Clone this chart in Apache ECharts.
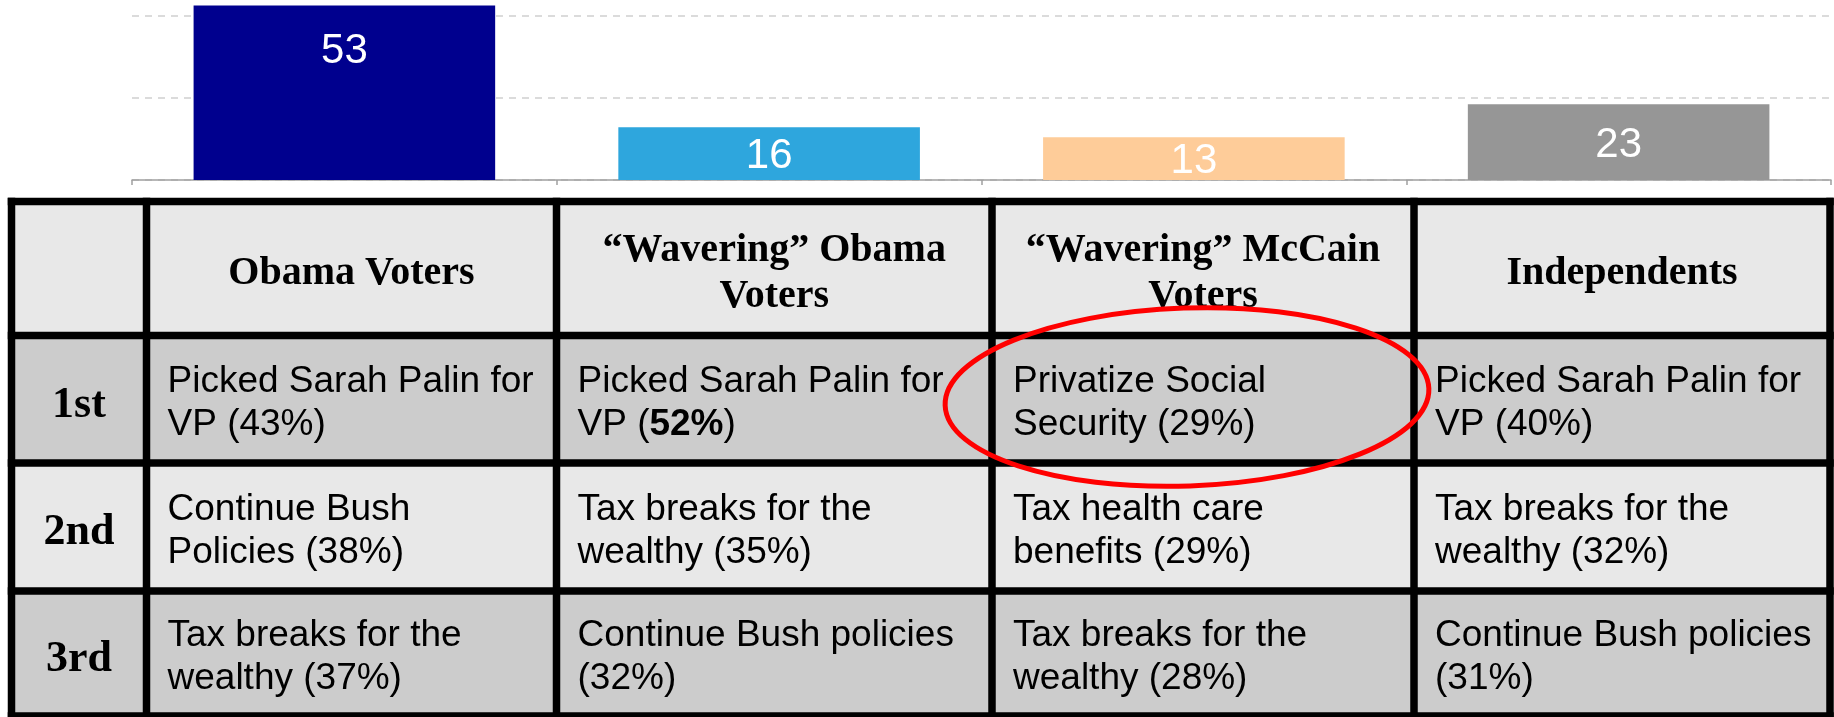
<!DOCTYPE html>
<html>
<head>
<meta charset="utf-8">
<script src="https://cdn.jsdelivr.net/npm/echarts@6/dist/echarts.min.js"></script>
<style>
html,body{margin:0;padding:0;background:#fff;}
#chart{width:1834px;height:717px;}
</style>
</head>
<body>
<div id="chart"></div>
<script>
// ---- data ----
const categories = ['Obama Voters', '“Wavering” Obama Voters', '“Wavering” McCain Voters', 'Independents'];
const headerLabels = ['Obama Voters', '“Wavering” Obama\nVoters', '“Wavering” McCain\nVoters', 'Independents'];
const barValues = [53, 16, 13, 23];
const rankLabels = ['1st', '2nd', '3rd'];
const rank1 = ['Picked Sarah Palin for\nVP (43%)', 'Picked Sarah Palin for\nVP ({b|52%})', 'Privatize Social\nSecurity (29%)', 'Picked Sarah Palin for\nVP (40%)'];
const rank2 = ['Continue Bush\nPolicies (38%)', 'Tax breaks for the\nwealthy (35%)', 'Tax health care\nbenefits (29%)', 'Tax breaks for the\nwealthy (32%)'];
const rank3 = ['Tax breaks for the\nwealthy (37%)', 'Continue Bush policies\n(32%)', 'Tax breaks for the\nwealthy (28%)', 'Continue Bush policies\n(31%)'];
const yTicks = [0, 25, 50, 75];

// ---- styles / layout ----
const barColors = ['#00008E', '#2EA6DD', '#FECC99', '#969696'];
const colLines = [11.5, 146.5, 556.5, 992, 1414, 1830];
const rowLines = [201.5, 335.5, 463, 591, 716];
const rowFills = ['#E8E8E8', '#CCCCCC', '#E8E8E8', '#CCCCCC'];
const lineW = 7.5;

const chart = echarts.init(document.getElementById('chart'), null, {renderer: 'canvas'});

const graphics = [];
const rows = [rank1, rank2, rank3];
// cell fills
for (let r = 0; r < 4; r++) {
  graphics.push({
    type: 'rect', z: 10,
    shape: {x: colLines[0], y: rowLines[r], width: colLines[5] - colLines[0], height: rowLines[r + 1] - rowLines[r]},
    style: {fill: rowFills[r]}
  });
}
// header texts
for (let c = 0; c < 4; c++) {
  graphics.push({
    type: 'text', z: 20,
    x: (colLines[c + 1] + colLines[c + 2]) / 2,
    y: (rowLines[0] + rowLines[1]) / 2 + 5,
    style: {
      text: headerLabels[c], fill: '#000',
      fontFamily: '"Liberation Serif", "Times New Roman", serif', fontWeight: 'bold', fontSize: 40,
      lineHeight: 46,
      align: 'center', verticalAlign: 'middle', textAlign: 'center', textVerticalAlign: 'middle'
    }
  });
}
// rank labels and body cells
for (let r = 0; r < 3; r++) {
  const cy = (rowLines[r + 1] + rowLines[r + 2]) / 2;
  graphics.push({
    type: 'text', z: 20,
    x: (colLines[0] + colLines[1]) / 2, y: cy + 6,
    style: {
      text: rankLabels[r], fill: '#000',
      fontFamily: '"Liberation Serif", "Times New Roman", serif', fontWeight: 'bold', fontSize: 44,
      align: 'center', verticalAlign: 'middle', textAlign: 'center', textVerticalAlign: 'middle'
    }
  });
  for (let c = 0; c < 4; c++) {
    graphics.push({
      type: 'text', z: 20,
      x: colLines[c + 1] + 21, y: cy + 4,
      style: {
        text: rows[r][c], fill: '#000',
        fontFamily: '"Liberation Sans", Arial, sans-serif', fontSize: 37,
        lineHeight: 43,
        rich: {b: {fontFamily: '"Liberation Sans", Arial, sans-serif', fontSize: 37, fontWeight: 'bold', lineHeight: 43, fill: '#000'}},
        align: 'left', verticalAlign: 'middle', textAlign: 'left', textVerticalAlign: 'middle'
      }
    });
  }
}
// grid lines
rowLines.forEach(function (y) {
  graphics.push({type: 'rect', z: 30, shape: {x: colLines[0] - lineW / 2, y: y - lineW / 2, width: colLines[5] - colLines[0] + lineW, height: lineW}, style: {fill: '#000'}});
});
colLines.forEach(function (x) {
  graphics.push({type: 'rect', z: 30, shape: {x: x - lineW / 2, y: rowLines[0] - lineW / 2, width: lineW, height: rowLines[4] - rowLines[0] + lineW}, style: {fill: '#000'}});
});
// highlight ellipse
graphics.push({
  type: 'ellipse', z: 40,
  x: 1187, y: 397, rotation: 0.035,
  shape: {cx: 0, cy: 0, rx: 242, ry: 89},
  style: {fill: 'none', stroke: '#FF0000', lineWidth: 5}
});

const option = {
  animation: false,
  backgroundColor: '#fff',
  grid: {left: 132, right: 3, top: -67, height: 247, containLabel: false, outerBoundsMode: 'none'},
  xAxis: {
    type: 'category', data: categories,
    axisLabel: {show: false},
    axisLine: {lineStyle: {color: '#A0A0A0', width: 1.5}},
    axisTick: {show: true, length: 5, lineStyle: {color: '#A0A0A0', width: 1.5}}
  },
  yAxis: {
    type: 'value', min: yTicks[0], max: yTicks[yTicks.length - 1], interval: yTicks[1] - yTicks[0],
    axisLabel: {show: false}, axisLine: {show: false}, axisTick: {show: false},
    splitLine: {show: true, lineStyle: {color: '#D0D0D0', width: 1.5, type: [7, 6]}}
  },
  series: [{
    type: 'bar',
    barCategoryGap: '29%',
    data: barValues.map(function (v, i) {
      const tall = v > 40;
      return {
        value: v,
        itemStyle: {color: barColors[i]},
        label: tall ? {position: 'insideTop', distance: 25} : {position: 'inside', offset: [0, 3]}
      };
    }),
    label: {
      show: true, color: '#fff', fontSize: 42,
      fontFamily: '"Liberation Sans", Arial, sans-serif'
    }
  }],
  graphic: graphics
};
chart.setOption(option);
</script>
</body>
</html>
